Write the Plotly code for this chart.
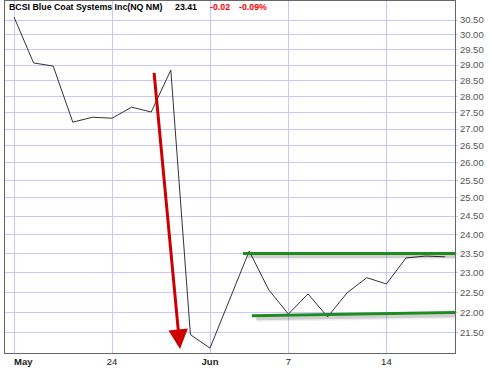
import math
import plotly.graph_objects as go

# ---- data ----
dates = ["2010-05-17", "2010-05-18", "2010-05-19", "2010-05-20", "2010-05-21",
         "2010-05-24", "2010-05-25", "2010-05-26", "2010-05-27", "2010-05-28",
         "2010-06-01", "2010-06-02", "2010-06-03", "2010-06-04",
         "2010-06-07", "2010-06-08", "2010-06-09", "2010-06-10", "2010-06-11",
         "2010-06-14", "2010-06-15", "2010-06-16", "2010-06-17"]
close = [30.60, 29.07, 28.97, 27.21, 27.36,
         27.33, 27.67, 27.52, 28.84, 21.46,
         21.14, 22.33, 23.56, 22.56,
         21.96, 22.46, 21.89, 22.49, 22.87,
         22.71, 23.38, 23.43, 23.41]

tick_dates = ["2010-05-17", "2010-05-24", "2010-06-01", "2010-06-07", "2010-06-14"]
tick_text = ["\u00a0\u00a0\u00a0\u00a0\u00a0\u00a0\u00a0<b>May</b>", "24", "<b>Jun</b>", "7", "14"]
y_ticks = [21.5, 22.0, 22.5, 23.0, 23.5, 24.0, 24.5, 25.0, 25.5, 26.0, 26.5,
           27.0, 27.5, 28.0, 28.5, 29.0, 29.5, 30.0, 30.5]

title_parts = ["BCSI Blue Coat Systems Inc(NQ NM)", "23.41", "-0.02", "-0.09%"]

# drawn annotations (category index, price)
arrow_start = (7.14, 28.8)
arrow_end = (8.47, 21.12)
resistance = [(11.68, 23.50), (22.76, 23.50)]
support = [(12.14, 21.92), (22.76, 22.00)]

fig = go.Figure()
fig.add_trace(go.Scatter(x=dates, y=close, mode="lines",
                         line=dict(color="#333333", width=1), hoverinfo="skip"))

shapes = []
for (p0, p1) in [resistance, support]:
    for off, w, a in [(0.25, 6, 0.06), (0.2, 3, 0.14)]:
        shapes.append(dict(type="line", xref="x", yref="y", layer="above",
                           x0=p0[0] + off, y0=p0[1] * 0.9965,
                           x1=p1[0] + off, y1=p1[1] * 0.9965,
                           line=dict(color=f"rgba(0,0,0,{a})", width=w)))
    shapes.append(dict(type="line", xref="x", yref="y", layer="above",
                       x0=p0[0], y0=p0[1], x1=p1[0], y1=p1[1],
                       line=dict(color="#1e8c1e", width=3)))

annotations = [dict(x=arrow_end[0], y=math.log10(arrow_end[1]),
                    ax=arrow_start[0], ay=math.log10(arrow_start[1]),
                    xref="x", yref="y", axref="x", ayref="y", text="",
                    showarrow=True, arrowhead=2, arrowsize=1.3, arrowwidth=3,
                    arrowcolor="#cc0000", standoff=0)]

tfont = dict(family="Liberation Sans, Arial, sans-serif", size=8.8)
title_x = [7, 173, 208, 237]
title_col = ["#000000", "#000000", "#ff0000", "#ff0000"]
for txt, px, col in zip(title_parts, title_x, title_col):
    annotations.append(dict(x=(px - 5) / 450, y=(353 - 7.5) / 352, xref="paper", yref="paper",
                            xanchor="left", yanchor="middle", showarrow=False,
                            text=f"<b>{txt}</b>", font=dict(color=col, **tfont)))

fig.update_layout(
    width=490, height=368,
    margin=dict(l=5, r=35, t=1, b=15),
    paper_bgcolor="white", plot_bgcolor="white",
    showlegend=False,
    shapes=shapes, annotations=annotations,
    xaxis=dict(type="category", range=[-0.46, 22.5], automargin=False,
               tickvals=tick_dates, ticktext=tick_text,
               showgrid=True, gridcolor="#c8c8ff", gridwidth=1,
               showline=True, linecolor="#666666", mirror=True,
               ticks="", tickfont=dict(family="Liberation Sans, Arial", size=9.5, color="#222222"),
               zeroline=False),
    yaxis=dict(type="log", side="right", automargin=False,
               range=[1.32273, 1.49352],
               tickvals=y_ticks, ticktext=[f"{v:.2f}" for v in y_ticks],
               showgrid=True, gridcolor="#c8c8ff", gridwidth=1,
               showline=True, linecolor="#666666", mirror=True,
               ticks="outside", ticklen=2, tickcolor="#c8c8ff",
               tickfont=dict(family="Liberation Sans, Arial", size=9.5, color="#555555"),
               zeroline=False),
)

fig.write_html("out.html")
